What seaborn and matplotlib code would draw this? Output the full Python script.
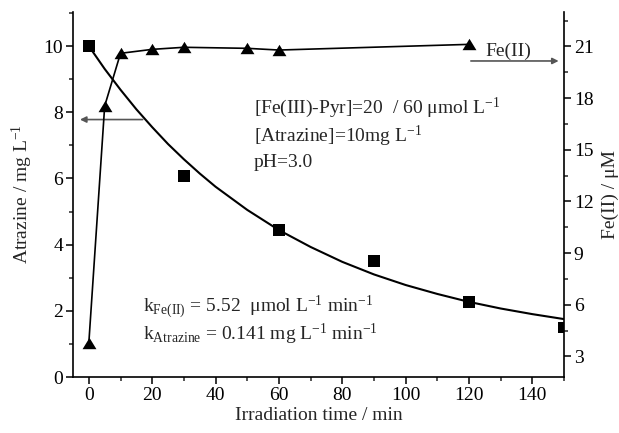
import numpy as np
import pandas as pd
import matplotlib
matplotlib.use("Agg")
import matplotlib.pyplot as plt
from matplotlib.ticker import MultipleLocator
from matplotlib.path import Path
import seaborn as sns

# ---- data ----
t_atr = [0, 30, 60, 90, 120, 150]
atrazine = [10.0, 6.07, 4.44, 3.51, 2.27, 1.50]

t_fit = [0, 5, 10, 15, 20, 25, 30, 35, 40, 50, 60, 70, 80, 90, 100, 110, 120, 130, 140, 150]
atr_fit = [10.0, 9.31, 8.68, 8.09, 7.55, 7.04, 6.58, 6.15, 5.75, 5.05, 4.44, 3.93, 3.48,
           3.10, 2.78, 2.51, 2.27, 2.07, 1.90, 1.75]

t_fe = [0, 5, 10, 20, 30, 50, 60, 120]
fe2 = [3.79, 17.54, 20.6, 20.83, 20.95, 20.89, 20.79, 21.12]

xticks = [0, 20, 40, 60, 80, 100, 120, 140]
yticks_left = [0, 2, 4, 6, 8, 10]
yticks_right = [3, 6, 9, 12, 15, 18, 21]

sns.set_theme(style="ticks")
plt.rcParams['font.family'] = ['Liberation Serif', 'DejaVu Serif']
plt.rcParams['mathtext.fontset'] = 'custom'
plt.rcParams['mathtext.rm'] = 'Liberation Serif'
plt.rcParams['mathtext.it'] = 'Liberation Serif:italic'
plt.rcParams['axes.unicode_minus'] = False

FS = 14
fig = plt.figure(figsize=(6.19, 4.33), dpi=100)
ax = fig.add_axes([73 / 619, 56 / 433, 491 / 619, 365 / 433])
ax2 = ax.twinx()

# Atrazine fit curve and data
sns.lineplot(x=t_fit, y=atr_fit, ax=ax, color='black', lw=1.5, zorder=2)
sns.scatterplot(x=t_atr, y=atrazine, ax=ax, marker='s', s=70, color='black',
                edgecolor='none', zorder=3, clip_on=True)

# Fe(II) data
tri = Path([(-1, -0.82), (1, -0.82), (0, 0.82), (-1, -0.82)],
           [Path.MOVETO, Path.LINETO, Path.LINETO, Path.CLOSEPOLY])
df_fe = pd.DataFrame({'t': t_fe, 'fe': fe2})
sns.lineplot(data=df_fe, x='t', y='fe', ax=ax2, color='black', lw=1.2,
             marker=tri, markersize=10, markeredgewidth=0, markerfacecolor='black')

# arrows
ax.annotate('', xy=(-2.8, 7.78), xytext=(17, 7.78),
            arrowprops=dict(arrowstyle='-|>', color='#555555', lw=1.2,
                            mutation_scale=9, shrinkA=0, shrinkB=0))
ax.annotate('', xy=(148.3, 9.55), xytext=(120.6, 9.55),
            arrowprops=dict(arrowstyle='-|>', color='#555555', lw=1.2,
                            mutation_scale=9, shrinkA=0, shrinkB=0))

ax.set_xlim(-5, 150)
ax.set_ylim(0, 11.03)
ax2.set_ylim(1.8, 23.0)

ax.set_xticks(xticks)
ax.set_yticks(yticks_left)
ax2.set_yticks(yticks_right)
ax.xaxis.set_minor_locator(MultipleLocator(10))
ax.yaxis.set_minor_locator(MultipleLocator(1))
ax2.yaxis.set_minor_locator(MultipleLocator(1.5))

for a in (ax, ax2):
    a.tick_params(which='major', direction='out', length=5, width=1.1,
                  labelsize=FS, colors='black', pad=2)
    a.tick_params(which='minor', direction='out', length=3, width=1.1)
    for s in a.spines.values():
        s.set_linewidth(1.2)
        s.set_color('black')
ax.spines['top'].set_visible(False)
ax.spines['right'].set_visible(False)
ax2.spines['top'].set_visible(False)
ax2.spines['left'].set_visible(False)
ax2.spines['bottom'].set_visible(False)

ax.set_xlabel('Irradiation time / min', fontsize=FS, labelpad=2)
ax.set_ylabel(r'Atrazine / mg L$^{\mathregular{-1}}$', fontsize=FS, labelpad=6)
ax2.set_ylabel('Fe(II) / μM', fontsize=FS, labelpad=6)

def ax_xy(px, py):
    return (px - 73) / 491, (377 - py) / 365

x0, y0 = ax_xy(254, 113.3)
ax.text(x0, y0, r'[Fe(III)-Pyr]=20  / 60 μmol L$^{\mathregular{-1}}$', transform=ax.transAxes,
        fontsize=FS, va='baseline', ha='left')
x0, y0 = ax_xy(254, 141.7)
ax.text(x0, y0, r'[Atrazine]=10mg L$^{\mathregular{-1}}$', transform=ax.transAxes,
        fontsize=FS, va='baseline', ha='left')
x0, y0 = ax_xy(254, 166.7)
ax.text(x0, y0, 'pH=3.0', transform=ax.transAxes, fontsize=FS, va='baseline', ha='left')

x0, y0 = ax_xy(143, 311.7)
ax.text(x0, y0, r'k$_{\mathregular{Fe(II)}}$ = 5.52  μmol L$^{\mathregular{-1}}$ min$^{\mathregular{-1}}$',
        transform=ax.transAxes, fontsize=FS, va='baseline', ha='left')
x0, y0 = ax_xy(143, 340)
ax.text(x0, y0, r'k$_{\mathregular{Atrazine}}$ = 0.141 mg L$^{\mathregular{-1}}$ min$^{\mathregular{-1}}$',
        transform=ax.transAxes, fontsize=FS, va='baseline', ha='left')

x0, y0 = ax_xy(485.7, 56)
ax.text(x0, y0, 'Fe(II)', transform=ax.transAxes, fontsize=FS, va='baseline', ha='left')

fig.savefig('out.png', dpi=100)
